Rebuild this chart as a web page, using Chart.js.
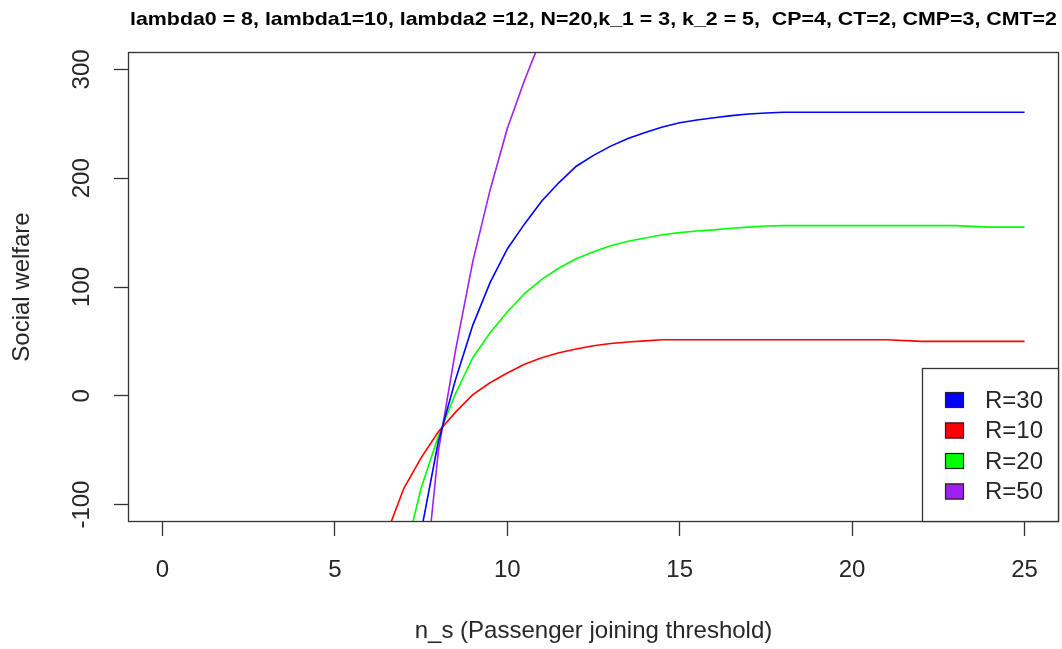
<!DOCTYPE html>
<html>
<head>
<meta charset="utf-8">
<script src="https://cdn.jsdelivr.net/npm/chart.js@4.4.1/dist/chart.umd.min.js"></script>
<style>
  html, body { margin: 0; padding: 0; background: #ffffff; }
  #wrap { width: 1062px; height: 649px; }
</style>
</head>
<body>
<div id="wrap"><canvas id="c" width="1062" height="649"></canvas></div>
<script>
// ---- data ----
const chartTitle = "lambda0 = 8, lambda1=10, lambda2 =12, N=20,k_1 = 3, k_2 = 5,  CP=4, CT=2, CMP=3, CMT=2";
const xTitle = "n_s (Passenger joining threshold)";
const yTitle = "Social welfare";
const nS = [0,1,2,3,4,5,6,6.5,7,7.5,8,8.5,9,9.5,10,10.5,11,11.5,12,12.5,13,13.5,14,14.5,15,15.5,16,16.5,17,17.5,18,19,20,21,22,23,24,25];
const seriesNames = ["R=30", "R=10", "R=20", "R=50"];
const seriesColors = ["#0000FF", "#FF0000", "#00FF00", "#A020F0"];
const wR30 = [-2600,-2200,-1800,-1450,-1100,-770,-480,-340,-230,-125,-42,15,65,104,135,158,179,196,211,221,229.5,236.5,242,247,251,253.5,255.5,257.5,259,260,260.6,260.6,260.6,260.6,260.6,260.6,260.6,260.6];
const wR10 = [-1100,-900,-720,-560,-420,-290,-180,-127,-85,-57,-33,-15,1,12,21,29,35,39.5,43,46,48,49.5,50.5,51.5,51.5,51.5,51.5,51.5,51.5,51.5,51.5,51.5,51.5,51.5,50,50,50,50];
const wR20 = [-1600,-1300,-1050,-820,-620,-440,-290,-215,-150,-85,-37,2,35,58,77,94,107,117.5,126,132.5,138,142,145,148,150,151.5,152.5,154,155,156,156.4,156.4,156.4,156.4,156.4,156.4,155,155];
const wR50 = [-4400,-3800,-3200,-2600,-2000,-1400,-900,-640,-420,-206,-51,42,123.5,189,245.6,290,330,360,385,405,420,432,443,451,457,461,465,468,470,471,472,472,472,472,472,472,472,472];
const xTicks = [0, 5, 10, 15, 20, 25];
const yTicks = [-100, 0, 100, 200, 300];
const xRange = [-1, 26];
const yRange = [-116, 316];

const seriesValues = [wR30, wR10, wR20, wR50];
const datasets = seriesNames.map((name, i) => ({
  label: name,
  data: nS.map((x, j) => ({ x: x, y: seriesValues[i][j] })),
  borderColor: seriesColors[i],
  backgroundColor: seriesColors[i],
  borderWidth: 1.6,
  pointRadius: 0,
  tension: 0,
  fill: false,
  clip: 0
}));

const FONT = '"Liberation Sans", Arial, sans-serif';
const INK = '#262626';

const boxPlugin = {
  id: 'boxPlugin',
  afterDraw(chart) {
    const ctx = chart.ctx;
    const a = chart.chartArea;
    ctx.save();
    // plot frame
    ctx.strokeStyle = '#333333';
    ctx.lineWidth = 1.3;
    ctx.strokeRect(Math.round(a.left) + 0.5, Math.round(a.top) + 0.5,
                   Math.round(a.right - a.left) - 1, Math.round(a.bottom - a.top) - 1);
    // title
    ctx.font = 'bold 19px ' + FONT;
    ctx.fillStyle = '#000000';
    ctx.textBaseline = 'alphabetic';
    ctx.textAlign = 'left';
    const w = ctx.measureText(chartTitle).width;
    const target = 927;
    const sx = target / w;
    const cx = (a.left + a.right) / 2;
    ctx.translate(cx - target / 2, 25);
    ctx.scale(sx, 1);
    ctx.fillText(chartTitle, 0, 0);
    ctx.restore();

    // legend (bottom-right inside the plot)
    ctx.save();
    const bx = 922, by = 368, bw = a.right - bx, bh = a.bottom - by;
    ctx.fillStyle = '#ffffff';
    ctx.fillRect(bx, by, bw, bh);
    ctx.strokeStyle = '#333333';
    ctx.lineWidth = 1.3;
    ctx.strokeRect(bx + 0.5, by + 0.5, bw - 1, bh - 1);
    ctx.font = '24px ' + FONT;
    ctx.textBaseline = 'middle';
    ctx.textAlign = 'left';
    chart.data.datasets.forEach((ds, i) => {
      const cy = 400 + i * 30.5;
      ctx.fillStyle = ds.borderColor;
      ctx.fillRect(945, cy - 8, 19, 16);
      ctx.strokeStyle = '#222222';
      ctx.lineWidth = 1.2;
      ctx.strokeRect(945.5, cy - 7.5, 18, 15);
      ctx.fillStyle = INK;
      ctx.fillText(ds.label, 985, cy + 1);
    });
    ctx.restore();
  }
};

new Chart(document.getElementById('c'), {
  type: 'line',
  data: { datasets: datasets },
  plugins: [boxPlugin],
  options: {
    responsive: false,
    animation: false,
    devicePixelRatio: 1,
    layout: { padding: { top: 52, right: 3, bottom: 0, left: 0 } },
    plugins: { legend: { display: false }, tooltip: { enabled: false }, title: { display: false } },
    scales: {
      x: {
        type: 'linear',
        min: xRange[0], max: xRange[1],
        afterBuildTicks: s => { s.ticks = xTicks.map(v => ({ value: v })); },
        afterFit: s => { s.height = 127; },
        grid: { drawOnChartArea: false, drawTicks: true, tickLength: 14, tickColor: '#333333', tickWidth: 1.3 },
        border: { display: false },
        ticks: { font: { family: FONT, size: 24 }, color: INK, padding: 20, maxRotation: 0, autoSkip: false },
        title: { display: true, text: xTitle, font: { family: FONT, size: 24, lineHeight: 1.2 }, color: INK, padding: { top: 0, bottom: 3 } }
      },
      y: {
        type: 'linear',
        min: yRange[0], max: yRange[1],
        afterBuildTicks: s => { s.ticks = yTicks.map(v => ({ value: v })); },
        afterFit: s => { s.width = 128; },
        grid: { drawOnChartArea: false, drawTicks: true, tickLength: 14, tickColor: '#333333', tickWidth: 1.3 },
        border: { display: false },
        ticks: { font: { family: FONT, size: 24 }, color: INK, padding: 8, minRotation: 90, maxRotation: 90, crossAlign: 'center', autoSkip: false },
        title: { display: true, text: yTitle, font: { family: FONT, size: 24, lineHeight: 1.2 }, color: INK, padding: { top: 8, bottom: 0 } }
      }
    }
  }
});
</script>
</body>
</html>
